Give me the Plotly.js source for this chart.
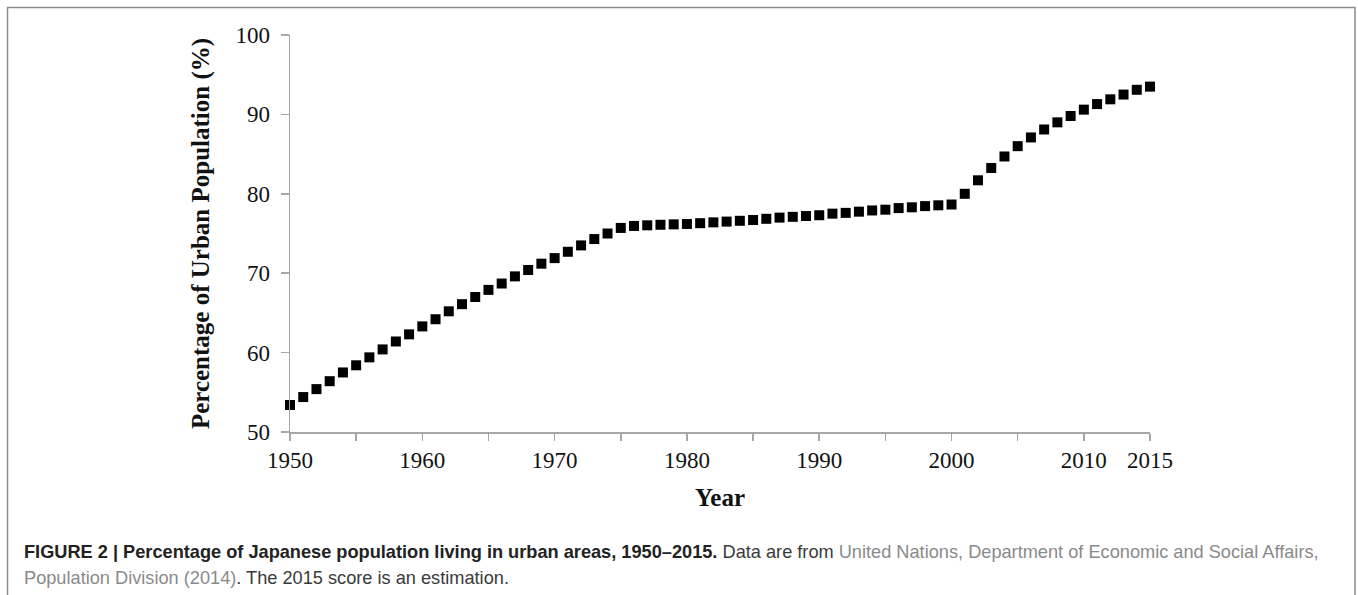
<!DOCTYPE html>
<html>
<head>
<meta charset="utf-8">
<script src="https://cdn.plot.ly/plotly-3.0.1.min.js"></script>
<style>
html,body{margin:0;padding:0;background:#fff;}
#chart{width:1358px;height:595px;}
</style>
</head>
<body>
<div id="chart"></div>
<script>
// Data (percentage of urban population, Japan)
const years = [1950,1951,1952,1953,1954,1955,1956,1957,1958,1959,
               1960,1961,1962,1963,1964,1965,1966,1967,1968,1969,
               1970,1971,1972,1973,1974,1975,1976,1977,1978,1979,
               1980,1981,1982,1983,1984,1985,1986,1987,1988,1989,
               1990,1991,1992,1993,1994,1995,1996,1997,1998,1999,
               2000,2001,2002,2003,2004,2005,2006,2007,2008,2009,
               2010,2011,2012,2013,2014,2015];
const urbanPct = [53.4,54.4,55.4,56.4,57.5,58.4,59.4,60.4,61.4,62.3,
                  63.3,64.2,65.2,66.1,67.0,67.9,68.7,69.6,70.4,71.2,
                  71.9,72.7,73.5,74.3,75.0,75.7,75.95,76.03,76.1,76.15,
                  76.2,76.3,76.4,76.5,76.6,76.7,76.85,77.0,77.1,77.2,
                  77.3,77.5,77.6,77.75,77.9,78.0,78.2,78.3,78.45,78.55,
                  78.65,80.0,81.7,83.25,84.7,86.0,87.1,88.1,89.0,89.8,
                  90.6,91.3,91.9,92.5,93.1,93.5];
const xTickVals = [1950,1955,1960,1965,1970,1975,1980,1985,1990,1995,2000,2005,2010,2015];
const xTickText = ['1950','','1960','','1970','','1980','','1990','','2000','','2010','2015'];
const yTickVals = [50,60,70,80,90,100];

const W = 1358, H = 595;
const M = {l:290, r:208, t:35, b:163};
const PW = W - M.l - M.r, PH = H - M.t - M.b;
const px = x => (x - M.l) / PW;
const py = y => 1 - (y - M.t) / PH;

const serif = '"Liberation Serif", "Times New Roman", serif';
const sans = '"Liberation Sans", Arial, Helvetica, sans-serif';

const trace = {
  x: years, y: urbanPct, type: 'scatter', mode: 'markers',
  marker: {symbol: 'square', size: 10, color: '#000'},
  cliponaxis: false, hoverinfo: 'x+y'
};

const layout = {
  width: W, height: H,
  margin: M,
  paper_bgcolor: '#fff', plot_bgcolor: '#fff',
  showlegend: false,
  font: {family: serif, color: '#000'},
  xaxis: {
    range: [1950, 2015], tickvals: xTickVals, ticktext: xTickText,
    showgrid: false, zeroline: false,
    showline: true, linecolor: '#a6a6a6', linewidth: 1.5,
    ticks: 'outside', ticklen: 7, tickwidth: 1.5, tickcolor: '#a6a6a6',
    tickfont: {family: serif, size: 23, color: '#111'},
    title: {text: '<b>Year</b>', font: {family: serif, size: 25, color: '#111'}, standoff: 16},
    automargin: false
  },
  yaxis: {
    range: [50, 100], tickvals: yTickVals,
    showgrid: false, zeroline: false,
    showline: true, linecolor: '#a6a6a6', linewidth: 1.5,
    ticks: 'outside', ticklen: 8, tickwidth: 1.5, tickcolor: '#a6a6a6',
    ticklabelstandoff: 6,
    tickfont: {family: serif, size: 23, color: '#111'},
    title: {text: '<b>Percentage of Urban Population (%)</b>', font: {family: serif, size: 25, color: '#111'}, standoff: 18},
    automargin: false
  },
  shapes: [{
    type: 'rect', xref: 'paper', yref: 'paper',
    x0: px(7.5), x1: px(1355), y0: py(600), y1: py(7.5),
    line: {color: '#8c8c8c', width: 1.5}, fillcolor: 'rgba(0,0,0,0)', layer: 'below'
  }],
  annotations: [
    {
      xref: 'paper', yref: 'paper', x: px(22), y: py(552),
      xanchor: 'left', yanchor: 'middle', showarrow: false, align: 'left',
      font: {family: sans, size: 18.2, color: '#3a3a3a'},
      text: '<b><span style="color:#222">FIGURE 2 | Percentage of Japanese population living in urban areas, 1950–2015.</span></b> Data are from <span style="color:#8a8a8a">United Nations, Department of Economic and Social Affairs,</span>'
    },
    {
      xref: 'paper', yref: 'paper', x: px(22), y: py(578),
      xanchor: 'left', yanchor: 'middle', showarrow: false, align: 'left',
      font: {family: sans, size: 18.2, color: '#3a3a3a'},
      text: '<span style="color:#8a8a8a">Population Division (2014)</span>. The 2015 score is an estimation.'
    }
  ]
};

Plotly.newPlot('chart', [trace], layout, {displayModeBar: false, staticPlot: true});
</script>
</body>
</html>
